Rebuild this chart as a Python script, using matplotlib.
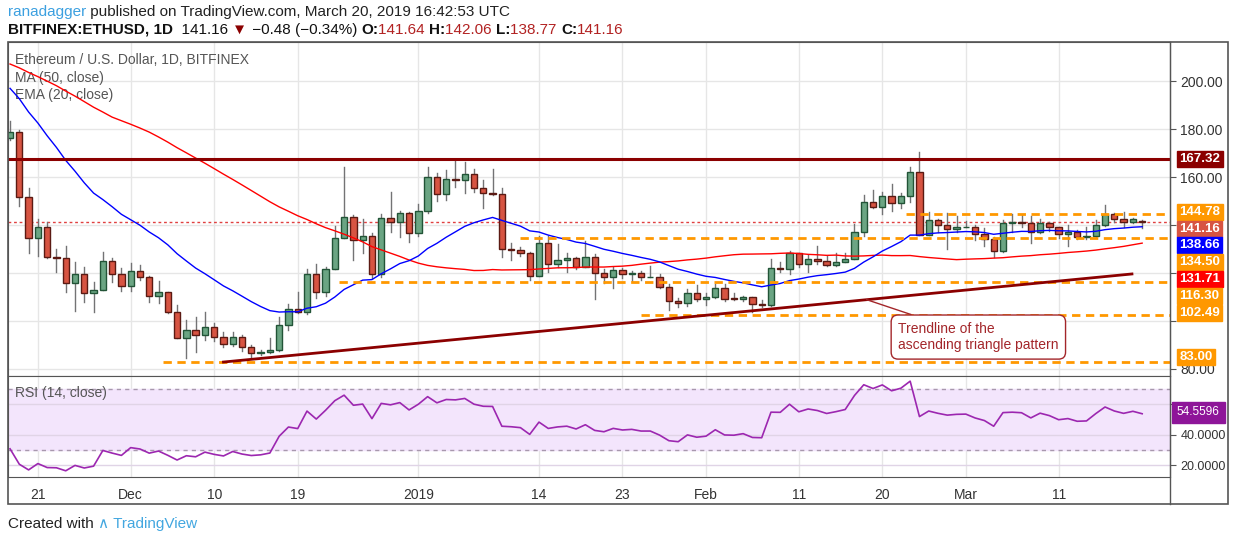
import numpy as np
import matplotlib
matplotlib.use("Agg")
import matplotlib.pyplot as plt
from matplotlib.patches import Rectangle
import matplotlib.transforms as mtransforms

plt.rcParams['font.family'] = ['Liberation Sans', 'DejaVu Sans']

# --- data: daily ETHUSD candles, 18 Nov 2018 .. 20 Mar 2019 ---
opens = [176.1, 178.9, 151.5, 134.4, 139.0, 126.8, 126.1, 115.7, 119.6, 111.5,
         112.8, 124.8, 119.4, 114.4, 120.7, 118.2, 110.3, 111.9, 103.6, 93.0,
         96.2, 94.0, 97.3, 93.2, 90.3, 93.2, 89.0, 86.5, 86.9, 87.9,
         98.2, 105.1, 103.6, 119.4, 111.9, 121.5, 134.4, 143.2, 133.6, 135.3,
         119.4, 142.8, 141.1, 144.9, 136.5, 145.7, 159.9, 152.8, 159.0, 158.6,
         161.1, 155.3, 153.2, 153.0, 130.1, 129.4, 128.2, 118.9, 132.4, 123.6,
         125.3, 126.1, 122.6, 126.8, 119.9, 118.2, 121.2, 119.4, 119.9, 118.2,
         118.2, 114.3, 108.5, 107.4, 111.5, 109.3, 109.9, 113.6, 109.3, 109.1,
         109.9, 107.0, 106.8, 121.9, 121.8, 128.2, 123.6, 125.8, 124.9, 123.2,
         124.4, 125.8, 136.9, 149.4, 147.4, 152.1, 149.0, 152.1, 161.9, 135.7,
         142.1, 139.9, 138.2, 139.0, 139.2, 136.1, 134.0, 129.2, 140.7, 141.1,
         140.7, 136.9, 140.7, 139.0, 136.1, 136.9, 135.1, 135.3, 139.9, 144.6,
         142.4, 141.1, 141.64]
highs = [183.3, 179.5, 155.3, 142.3, 141.1, 129.8, 131.2, 124.4, 122.6, 116.1,
         128.6, 126.4, 121.9, 124.0, 123.3, 118.7, 116.6, 112.0, 106.6, 100.4,
         101.5, 103.9, 99.0, 95.4, 95.4, 94.0, 90.0, 88.0, 92.8, 101.5,
         107.1, 112.0, 121.7, 123.7, 122.3, 139.6, 164.3, 144.2, 142.5, 136.5,
         144.4, 153.6, 145.8, 145.5, 148.7, 164.0, 161.5, 162.9, 167.5, 166.1,
         163.3, 158.7, 163.3, 155.3, 132.4, 131.0, 128.9, 135.5, 135.5, 131.9,
         128.2, 126.5, 133.5, 127.8, 121.7, 122.6, 121.9, 120.9, 120.8, 122.9,
         119.6, 115.4, 109.4, 113.2, 115.0, 111.5, 115.4, 115.4, 111.5, 110.5,
         109.9, 108.7, 125.8, 124.7, 129.2, 128.2, 127.5, 131.2, 127.1, 128.2,
         128.2, 140.4, 152.5, 154.6, 153.9, 157.1, 153.2, 164.0, 170.3, 145.6,
         142.5, 145.1, 143.8, 141.8, 140.0, 138.6, 135.1, 142.1, 144.6, 144.2,
         143.8, 142.5, 141.4, 139.3, 140.0, 137.9, 139.0, 142.1, 148.3, 145.1,
         145.6, 142.8, 142.06]
lows = [175.5, 148.0, 128.2, 127.2, 126.1, 120.5, 112.2, 104.3, 108.0, 103.6,
        112.8, 116.4, 112.6, 112.6, 117.1, 108.0, 107.6, 103.5, 92.8, 84.4,
        87.2, 92.1, 91.8, 89.3, 89.6, 87.6, 85.1, 85.8, 86.8, 87.6,
        96.3, 103.2, 102.8, 109.7, 110.4, 121.5, 134.4, 125.4, 128.5, 117.8,
        118.5, 137.2, 135.1, 133.0, 135.5, 144.9, 150.1, 150.4, 155.7, 153.5,
        153.9, 146.9, 152.5, 126.8, 125.4, 127.1, 117.1, 118.8, 120.6, 122.6,
        120.6, 121.5, 122.6, 109.0, 115.9, 113.6, 117.8, 116.8, 117.1, 118.2,
        113.6, 104.6, 105.7, 106.4, 108.5, 106.7, 109.4, 108.5, 108.7, 108.5,
        103.9, 106.0, 106.4, 120.6, 119.4, 122.4, 120.6, 123.7, 122.9, 122.9,
        124.4, 125.8, 135.4, 147.0, 144.4, 146.0, 146.9, 149.7, 135.7, 135.7,
        137.2, 129.9, 137.2, 139.0, 133.7, 131.4, 126.8, 128.9, 137.2, 139.0,
        132.4, 136.5, 137.6, 134.4, 131.4, 134.3, 134.2, 135.1, 139.6, 141.1,
        139.0, 140.7, 138.77]
closes = [178.9, 151.5, 134.4, 139.0, 126.8, 126.1, 115.7, 119.6, 111.5, 112.8,
          124.8, 119.4, 114.4, 120.7, 118.2, 110.3, 111.9, 103.6, 93.0, 96.2,
          94.0, 97.3, 93.2, 90.3, 93.2, 89.0, 86.5, 86.9, 87.9, 98.2,
          105.1, 103.6, 119.4, 111.9, 121.5, 134.4, 143.2, 133.6, 135.3, 119.4,
          142.8, 141.1, 144.9, 136.5, 145.7, 159.9, 152.8, 159.0, 158.6, 161.1,
          155.3, 153.2, 153.0, 130.1, 129.4, 128.2, 118.9, 132.4, 123.6, 125.3,
          126.1, 122.6, 126.8, 119.9, 118.2, 121.2, 119.4, 119.9, 118.2, 118.2,
          114.3, 108.5, 107.4, 111.5, 109.3, 109.9, 113.6, 109.3, 109.1, 109.9,
          107.0, 106.8, 121.9, 121.8, 128.2, 123.6, 125.8, 124.9, 123.2, 124.4,
          125.8, 136.9, 149.4, 147.4, 152.1, 149.0, 152.1, 161.9, 135.7, 142.1,
          139.9, 138.2, 139.0, 139.2, 136.1, 134.0, 129.2, 140.7, 141.1, 140.7,
          136.9, 140.7, 139.0, 136.1, 136.9, 135.1, 135.3, 139.9, 144.6, 142.4,
          141.1, 142.4, 141.16]

# closes before the visible window (30 Sep .. 17 Nov 2018), used for MA/EMA/RSI warm-up
prior_closes = [232, 230, 226, 220, 222, 227, 225, 226, 229, 226, 225, 189, 195, 197,
                195, 213, 211, 209, 203, 203, 205, 206, 205, 204, 203, 203, 204, 205,
                205, 196, 197, 198, 201, 202, 201, 213, 210, 219, 218, 211, 209, 213,
                212, 210, 207, 182, 181, 176, 176]

date_ticks = [3, 13, 22, 31, 44, 57, 66, 75, 85, 94, 103, 113]
date_labels = ["21", "Dec", "10", "19", "2019", "14", "23", "Feb", "11", "20", "Mar", "11"]

resistance = 167.32
levels = [144.78, 134.50, 116.30, 102.49, 83.00]
level_start = [96.5, 55.0, 35.5, 68.0, 16.5]
trend_x = [23.0, 120.9]
trend_y = [82.9, 119.6]

# --- indicators ---
allc = np.array(prior_closes + closes, dtype=float)
n0 = len(prior_closes)
ma50 = np.array([allc[i - 49:i + 1].mean() for i in range(n0, len(allc))])
ema = np.zeros(len(allc))
ema[0] = allc[0]
k = 2 / 21
for i in range(1, len(allc)):
    ema[i] = allc[i] * k + ema[i - 1] * (1 - k)
ema20 = ema[n0:]
d = np.diff(allc)
up = np.where(d > 0, d, 0)
dn = np.where(d < 0, -d, 0)
au, ad = up[:14].mean(), dn[:14].mean()
rsi_all = []
for i in range(14, len(d)):
    au = (au * 13 + up[i]) / 14
    ad = (ad * 13 + dn[i]) / 14
    rsi_all.append(100 - 100 / (1 + au / ad))
rsi = np.array(rsi_all[-len(closes):])

W, H = 1234, 541
fig = plt.figure(figsize=(W / 100, H / 100), dpi=100)

def fx(px):
    return px / W

def fy(py):
    return 1 - py / H

ax = fig.add_axes([fx(8), fy(376), fx(1162), (376 - 42) / H])
ax2 = fig.add_axes([fx(8), fy(477), fx(1162), (477 - 376) / H], sharex=ax)

x = np.arange(len(closes))
grid_c = "#e6e6e6"
for a in (ax, ax2):
    for t in date_ticks:
        a.axvline(t, color=grid_c, lw=1, zorder=0)
    for s in a.spines.values():
        s.set_color("#555555")

# price pane
ax.set_xlim(-0.22, 125.0)
ax.set_ylim(200 - (376 - 81) / 2.4, 200 + (81 - 42) / 2.4)
for yv in range(80, 220, 20):
    ax.axhline(yv, color=grid_c, lw=1, zorder=0)

for i in x:
    o, h, l, c = opens[i], highs[i], lows[i], closes[i]
    up_bar = c >= o
    body = "#6ba583" if up_bar else "#d75442"
    edge = "#225437" if up_bar else "#5b1a13"
    ax.plot([i, i], [l, h], color="#737375", lw=1, zorder=2)
    ax.add_patch(Rectangle((i - 0.34, min(o, c)), 0.68, max(abs(c - o), 0.3),
                           facecolor=body, edgecolor=edge, lw=1, zorder=3))

ax.plot(x, ma50, color="#ff0000", lw=1, zorder=4)
ax.plot(x, ema20, color="#0000ff", lw=1, zorder=4)
ax.axhline(resistance, color="#8b0000", lw=2.2, zorder=5)
for lv, st in zip(levels, level_start):
    ax.plot([st, 125], [lv, lv], color="#ff9800", lw=2, ls=(0, (3, 2)), zorder=5)
ax.axhline(closes[-1], color="#e04040", lw=1, ls=(0, (2, 2)), zorder=1)
ax.plot(trend_x, trend_y, color="#8b0000", lw=2, zorder=5)

ax.annotate("Trendline of the\nascending triangle pattern", xy=(92.3, 108.9),
            xytext=(95.7, 99.6), fontsize=10, color="#a3262a", va="top", ha="left",
            bbox=dict(boxstyle="round,pad=0.5", fc="white", ec="#a3262a", lw=1),
            arrowprops=dict(arrowstyle="-", color="#a3262a", lw=1, shrinkA=0, shrinkB=0),
            zorder=6)

# tick labels 100-140 sit under the value boxes in the original, so only the free ones show
ax.yaxis.tick_right()
ax.set_yticks(range(80, 220, 20))
ax.set_yticklabels(["%.2f" % v if v in (80, 160, 180, 200) else "" for v in range(80, 220, 20)],
                   fontsize=10, color="#333333")
ax.tick_params(axis="y", length=4, color="#555555")
ax.tick_params(axis="x", length=0, labelbottom=False)

trans = mtransforms.blended_transform_factory(ax.transAxes, ax.transData)
value_labels = [("144.78", "#ff9800", 212), ("141.16", "#d75442", 229),
                ("138.66", "#0000ff", 245), ("134.50", "#ff9800", 262),
                ("131.71", "#ff0000", 279), ("116.30", "#ff9800", 296),
                ("102.49", "#ff9800", 313), ("83.00", "#ff9800", 357),
                ("167.32", "#8b0000", 159)]
for txt, col, py in value_labels:
    ax.text(1.008, 200 - (py - 81) / 2.4, txt, transform=trans, fontsize=9.5,
            fontweight="bold", color="white", va="center", ha="left", clip_on=False,
            bbox=dict(boxstyle="square,pad=0.18", fc=col, ec=col), zorder=10)

ax.text(7 / 1162, 1 - 18 / 334, "Ethereum / U.S. Dollar, 1D, BITFINEX", transform=ax.transAxes,
        fontsize=10, color="#555555", va="center")
ax.text(7 / 1162, 1 - 36 / 334, "MA (50, close)", transform=ax.transAxes,
        fontsize=10, color="#555555", va="center")
ax.text(7 / 1162, 1 - 53 / 334, "EMA (20, close)", transform=ax.transAxes,
        fontsize=10, color="#555555", va="center")

# RSI pane
ax2.set_ylim(20 - (477 - 465) / 1.525, 60 + (404 - 376) / 1.525)
ax2.axhspan(30, 70, color="#f3e5fc", zorder=0)
for yv in (20, 40, 60):
    ax2.axhline(yv, color="#e0d4e6", lw=1, zorder=1)
ax2.axhline(70, color="#a898ad", lw=1, ls=(0, (3, 3)), zorder=1)
ax2.axhline(30, color="#a898ad", lw=1, ls=(0, (3, 3)), zorder=1)
ax2.plot(x, rsi, color="#9c27b0", lw=1.2, zorder=3)
ax2.yaxis.tick_right()
ax2.set_yticks([20, 40, 60])
ax2.set_yticklabels(["20.0000", "40.0000", ""], fontsize=9, color="#333333")
ax2.tick_params(axis="y", length=4, color="#555555")
ax2.set_xticks(date_ticks)
ax2.set_xticklabels(date_labels, fontsize=10, color="#333333")
ax2.tick_params(axis="x", length=0, pad=8)
ax2.text(1.006, 54.5596, "%.4f" % 54.5596, transform=mtransforms.blended_transform_factory(
    ax2.transAxes, ax2.transData), fontsize=8.5, color="white", va="center", clip_on=False,
    bbox=dict(boxstyle="square,pad=0.4", fc="#8e1599", ec="#8e1599"), zorder=10)
ax2.text(7 / 1162, 1 - 17 / 101, "RSI (14, close)", transform=ax2.transAxes,
         fontsize=10, color="#555555", va="center")

# outer frame
fig.add_artist(Rectangle((fx(8), fy(504)), fx(1220), (504 - 42) / H, fill=False,
                         ec="#555555", lw=1.2, transform=fig.transFigure))
fig.add_artist(plt.Line2D([fx(1170), fx(1170)], [fy(504), fy(42)], color="#555555",
                          lw=1, transform=fig.transFigure))

# header texts, drawn piece by piece
renderer = fig.canvas.get_renderer()

def pieces(py, parts):
    xpos = fx(8)
    for txt, col, wt in parts:
        t = fig.text(xpos, fy(py), txt, fontsize=11, color=col, fontweight=wt, va="center")
        bb = t.get_window_extent(renderer=renderer)
        xpos += bb.width / W

pieces(12, [("ranadagger", "#3ca0e0", "normal"),
            (" published on TradingView.com, March 20, 2019 16:42:53 UTC", "#222222", "normal")])
pieces(30, [("BITFINEX:ETHUSD, 1D", "#111111", "bold"), ("  141.16 ", "#111111", "normal"),
            ("\u25bc", "#8b0000", "normal"), (" \u22120.48 (\u22120.34%) ", "#111111", "normal"),
            ("O:", "#111111", "bold"), ("141.64 ", "#b22222", "normal"),
            ("H:", "#111111", "bold"), ("142.06 ", "#b22222", "normal"),
            ("L:", "#111111", "bold"), ("138.77 ", "#b22222", "normal"),
            ("C:", "#111111", "bold"), ("141.16", "#b22222", "normal")])
pieces(524, [("Created with ", "#222222", "normal"), ("\u2227 TradingView", "#43a7e0", "normal")])

fig.savefig("out.png", dpi=100)
